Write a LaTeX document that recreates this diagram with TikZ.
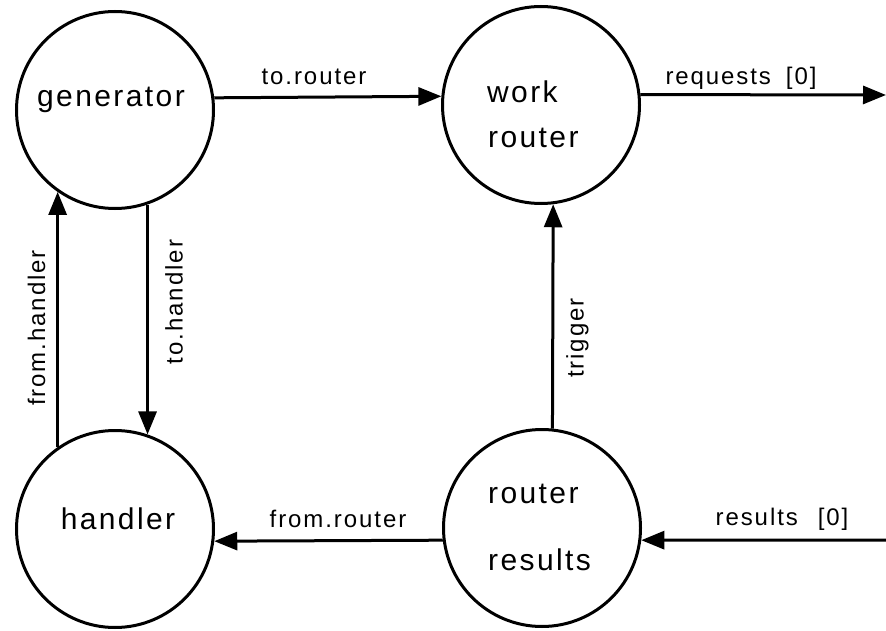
\documentclass[tikz,border=0pt]{standalone}
\usepackage{fontspec}
\setmainfont{Liberation Sans}
\usetikzlibrary{arrows.meta}
\begin{document}
\begin{tikzpicture}[x=1pt,y=-1pt,
  proc/.style={circle,draw,line width=3pt,minimum size=197pt,inner sep=0pt},
  conn/.style={line width=3pt,-{Triangle[length=23pt,width=18pt]}},
  nodetext/.style={font=\fontsize{30}{30}\selectfont\addfontfeature{LetterSpace=8},inner sep=0pt},
  lbl/.style={font=\fontsize{24}{24}\selectfont\addfontfeature{LetterSpace=8},inner sep=0pt},
]
\useasboundingbox (0,0) rectangle (886,631);
\fill[white] (0,0) rectangle (886,631);

% process circles
\node[proc] (gen) at (115,110) {};
\node[proc] (wr)  at (541,105) {};
\node[proc] (hd)  at (115,529) {};
\node[proc] (rr)  at (542,528) {};

% texts inside circles
\node[nodetext,anchor=base] (gentext) at (111,107) {generator};
\node[nodetext,anchor=base west] (wrtexta) at (487,103) {work};
\node[nodetext,anchor=base west] (wrtextb) at (488,148) {router};
\node[nodetext,anchor=base] (hdtext) at (118,529) {handler};
\node[nodetext,anchor=base west] (rrtexta) at (488,503) {router};
\node[nodetext,anchor=base west] (rrtextb) at (488,570) {results};

% free ends
\coordinate (reqend) at (886,95);
\coordinate (resstart) at (886,540);

% connectors
\draw[conn] (gen.7) -- (wr.175);
\draw[conn] (wr.6) -- (reqend);
\draw[conn] (rr.84) -- (wr.-83);
\draw[conn] (gen.-71) -- (hd.71);
\draw[conn] (hd.125) -- (gen.-125);
\draw[conn] (rr.187) -- (hd.-7);
\draw[conn] (resstart) -- (rr.-7);

% connector labels
\node[lbl,anchor=base] (ltorouter) at (314,85) {to.router};
\node[lbl,anchor=base] (lrequests) at (741,85) {requests\hspace{15pt}[0]};
\node[lbl,anchor=base] (lfromrouter) at (338,527) {from.router};
\node[lbl,anchor=base] (lresults) at (782,525) {results\hspace{20pt}[0]};
\node[lbl,rotate=90] (lfromhandler) at (36.5,328) {from.handler};
\node[lbl,rotate=90] (ltohandler) at (174,302) {to.handler};
\node[lbl,rotate=90] (ltrigger) at (577.5,338) {trigger};
\end{tikzpicture}
\end{document}
